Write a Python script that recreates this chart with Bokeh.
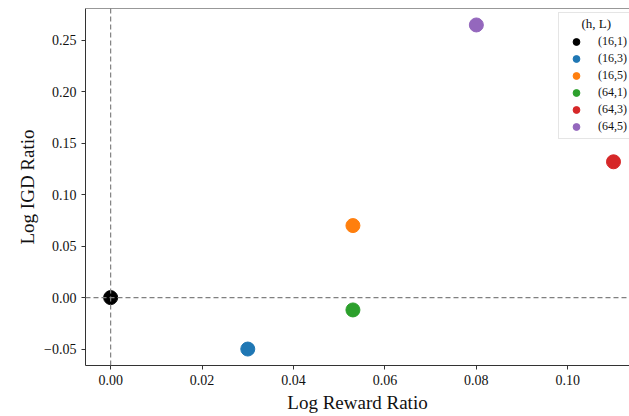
from bokeh.plotting import figure
from bokeh.models import (Span, Range1d, FixedTicker, CustomJSTickFormatter,
                          Legend, LegendItem)
from bokeh.embed import file_html
from bokeh.resources import INLINE

labels = ["(16,1)", "(16,3)", "(16,5)", "(64,1)", "(64,3)", "(64,5)"]
log_reward = [0.0, 0.030, 0.053, 0.053, 0.110, 0.080]
log_igd = [0.0, -0.050, 0.070, -0.012, 0.132, 0.265]
colors = ["#000000", "#1f77b4", "#ff7f0e", "#2ca02c", "#d62728", "#9467bd"]
x_ticks = [0.0, 0.02, 0.04, 0.06, 0.08, 0.10]
y_ticks = [-0.05, 0.0, 0.05, 0.10, 0.15, 0.20, 0.25]
x_lim = (-0.0055, 0.1135)
y_lim = (-0.066, 0.281)
legend_title = "(h, L)"

FONT = "Liberation Serif"

p = figure(frame_width=544, frame_height=357, output_backend="svg", toolbar_location=None,
           x_range=Range1d(*x_lim), y_range=Range1d(*y_lim),
           min_border_left=85, min_border_right=0, min_border_top=8, min_border_bottom=10)
p.outline_line_color = None
p.grid.visible = False
p.background_fill_color = "white"

fmt = CustomJSTickFormatter(code="return (tick < -1e-9 ? '\u2212' : '') + Math.abs(tick).toFixed(2);")
for ax, ticks in ((p.xaxis[0], x_ticks), (p.yaxis[0], y_ticks)):
    ax.ticker = FixedTicker(ticks=ticks)
    ax.formatter = fmt
    ax.major_label_text_font = FONT
    ax.major_label_text_font_size = "14px"
    ax.major_label_text_color = "#111111"
    ax.axis_label_text_font = FONT
    ax.axis_label_text_font_size = "19px"
    ax.axis_label_text_font_style = "normal"
    ax.axis_label_text_color = "#111111"
    ax.minor_tick_line_color = None
    ax.major_tick_out = 4
    ax.major_tick_in = 0
    ax.axis_line_color = "#333333"
    ax.major_tick_line_color = "#333333"
p.xaxis.axis_label = "Log Reward Ratio"
p.yaxis.axis_label = "Log IGD Ratio"
p.xaxis.axis_label_standoff = 4
p.yaxis.axis_label_standoff = 3

items = []
for i, lab in enumerate(labels):
    r = p.scatter(x=[log_reward[i]], y=[log_igd[i]], size=14, color=colors[i], line_color=colors[i])
    items.append(LegendItem(label=lab, renderers=[r]))

p.add_layout(Span(location=0, dimension="width", line_color="#808080", line_dash="5 3", line_width=1.2))
p.add_layout(Span(location=0, dimension="height", line_color="#808080", line_dash="5 3", line_width=1.2))
p.add_layout(Span(location=y_lim[1], dimension="width", line_color="#333333", line_width=1))

legend = Legend(items=items, location=(473, 226), title="\u00a0" * 6 + legend_title,
                title_text_font=FONT, title_text_font_size="13px", title_text_font_style="normal",
                title_text_color="#111111",
                label_text_font=FONT, label_text_font_size="12px", label_text_color="#111111",
                glyph_width=28, glyph_height=17, label_height=17, label_standoff=8,
                spacing=0, padding=3, margin=0, title_standoff=1,
                border_line_color="#cccccc", border_line_width=1, background_fill_alpha=0.8)
p.add_layout(legend)

open("out.html", "w").write(file_html(p, INLINE))
